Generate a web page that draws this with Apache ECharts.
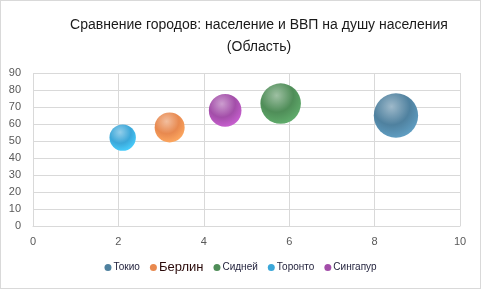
<!DOCTYPE html>
<html><head><meta charset="utf-8">
<script src="https://cdn.jsdelivr.net/npm/echarts@6/dist/echarts.min.js"></script>
<style>html,body{margin:0;padding:0;background:#fff}#c{width:479px;height:287px;border:1px solid #d9d9d9}</style>
</head><body><div id="c"></div>
<script>
const cities = ['Токио','Берлин','Сидней','Торонто','Сингапур'];
const xValues = [8.5, 3.2, 5.8, 2.1, 4.5];
const yValues = [65, 58, 72, 52, 68];
const sizes = [48, 22, 40, 17, 26];
const colors = ['#4f819f','#e8894f','#4f8d58','#3ba7d9','#a34ea9'];
const xTicks = [0,2,4,6,8,10];
const yTicks = [0,10,20,30,40,50,60,70,80,90];

function grad(c){
  return new echarts.graphic.RadialGradient(0.4,0.3,0.75,[
    {offset:0,color:echarts.color.lift(c,0.45)},
    {offset:0.55,color:c},
    {offset:1,color:echarts.color.lift(c,-0.25)}
  ]);
}
const chart = echarts.init(document.getElementById('c'));
chart.setOption({
  animation:false,
  title:{text:'Сравнение городов: население и ВВП на душу населения\n(Область)',left:253,textAlign:'center',top:8,
    textStyle:{fontSize:14,fontWeight:'normal',color:'#1a1a1a',fontFamily:'Liberation Sans, Arial',lineHeight:22}},
  grid:{left:32,right:20,top:72,bottom:62},
  xAxis:{type:'value',min:0,max:10,interval:2,
    axisLine:{show:true,lineStyle:{color:'#d9d9d9'}},axisTick:{show:false},
    splitLine:{lineStyle:{color:'#d9d9d9'}},
    axisLabel:{color:'#595959',fontSize:11,margin:10,fontFamily:'Liberation Sans, Arial'}},
  yAxis:{type:'value',min:0,max:90,interval:10,
    axisLine:{show:false},axisTick:{show:false},
    splitLine:{lineStyle:{color:'#d9d9d9'}},
    axisLabel:{color:'#595959',fontSize:11,margin:12,fontFamily:'Liberation Sans, Arial'}},
  legend:{bottom:9,left:'center',itemWidth:7,itemHeight:7,itemGap:10,icon:'circle',
    textStyle:{fontSize:10,color:'#1f1f3a',fontFamily:'Liberation Sans, Arial',padding:[0,0,0,-3],
      rich:{b:{fontSize:13,color:'#2a0a0a',fontFamily:'Liberation Sans, Arial'}}},
    formatter:function(n){return n==='Берлин'?'{b|'+n+'}':n;},
    data:cities.map((n,i)=>({name:n,itemStyle:{color:colors[i]}}))},
  series: cities.map((name,i)=>({
    name:name,type:'scatter',
    data:[[xValues[i],yValues[i],sizes[i]]],
    symbolSize:function(d){return 6.4*Math.sqrt(d[2]);},
    itemStyle:{color:grad(colors[i]),opacity:1},
    emphasis:{disabled:true}
  }))
});
</script></body></html>
